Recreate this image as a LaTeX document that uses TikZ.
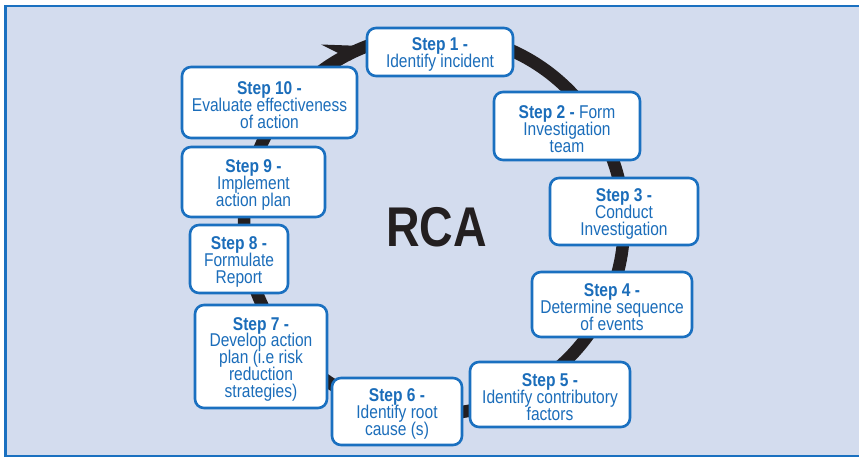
\documentclass[tikz,border=0pt]{standalone}
\usepackage{fontspec}
\setmainfont{Liberation Sans}[FakeStretch=0.84]
\newfontfamily\rcafont{Liberation Sans}[FakeStretch=0.83]
\definecolor{panel}{HTML}{D3DCEE}
\definecolor{edgeblue}{HTML}{1A70C0}
\definecolor{txtblue}{HTML}{1B6DBA}
\definecolor{ringblack}{HTML}{231F20}
% step text: fixed line pitch, even where letters would touch
\newcommand{\stepfont}{\fontsize{18.5}{16.9}\selectfont\setlength{\lineskiplimit}{-10pt}}
% extra room above the first line, so the lines sit a little below the box centre
\newcommand{\headroom}{\rule{0pt}{18.5pt}}
\begin{document}
\begin{tikzpicture}[x=1pt,y=-1pt,
  stepbox/.style={draw=edgeblue, line width=2.6pt, fill=white, rounded corners=9pt,
    text=txtblue, align=center, inner sep=0pt, font=\stepfont},
  ring/.style={draw=ringblack, line width=12.5pt, line cap=butt},
  frameline/.style={draw=edgeblue, line width=2.6pt}]
\useasboundingbox (0,0) rectangle (859,457);

% panel and its frame
\fill[panel] (5.5,6) rectangle (859,456);
\coordinate (tl) at (5.5,6);
\coordinate (tr) at (859,6);
\coordinate (bl) at (5.5,456);
\coordinate (br) at (859,456);
\draw[frameline] (tr) -- (tl) -- (bl) -- (br);

% cycle ring with its arrowhead
\coordinate (c) at (434,224);
\draw[ring] (c) ++(95:190) arc[start angle=95, end angle=-243, radius=190];
\coordinate (tip) at (362,46);
\coordinate (barb) at (321,44.5);
\coordinate (notch) at (338,53);
\coordinate (inner) at (350.5,60.5);
\fill[ringblack] (tip) -- (barb) -- (notch) -- (inner) -- cycle;

% step boxes
\node[stepbox, minimum width=146pt, minimum height=48pt] (s1) at (440,52)
  {\headroom\textbf{Step 1 -}\\Identify incident};
\node[stepbox, minimum width=146pt, minimum height=68pt] (s2) at (567,126)
  {\headroom\textbf{Step 2 -} Form\\Investigation\\team};
\node[stepbox, minimum width=148pt, minimum height=67pt] (s3) at (624,211.5)
  {\headroom\textbf{Step 3 -}\\Conduct\\Investigation};
\node[stepbox, minimum width=160pt, minimum height=65pt] (s4) at (612,304.5)
  {\headroom\textbf{Step 4 -}\\Determine sequence\\of events};
\node[stepbox, minimum width=160pt, minimum height=65pt] (s5) at (550,394.5)
  {\headroom\textbf{Step 5 -}\\Identify contributory\\factors};
\node[stepbox, minimum width=130pt, minimum height=67pt] (s6) at (397,411.5)
  {\headroom\textbf{Step 6 -}\\Identify root\\cause (s)};
\node[stepbox, minimum width=132pt, minimum height=103pt] (s7) at (261,356.5)
  {\headroom\textbf{Step 7 -}\\Develop action\\plan (i.e risk\\reduction\\strategies)};
\node[stepbox, minimum width=98pt, minimum height=68pt] (s8) at (239,259)
  {\headroom\textbf{Step 8 -}\\Formulate\\Report};
\node[stepbox, minimum width=143pt, minimum height=70pt] (s9) at (253.5,182)
  {\headroom\textbf{Step 9 -}\\Implement\\action plan};
\node[stepbox, minimum width=175pt, minimum height=71pt] (s10) at (269.5,102.5)
  {\headroom\textbf{Step 10 -}\\Evaluate effectiveness\\of action};

% centre title
\node[text=ringblack, font=\rcafont\bfseries\fontsize{56}{56}\selectfont, inner sep=0pt]
  (rca) at (436.5,227) {RCA};
\end{tikzpicture}
\end{document}
